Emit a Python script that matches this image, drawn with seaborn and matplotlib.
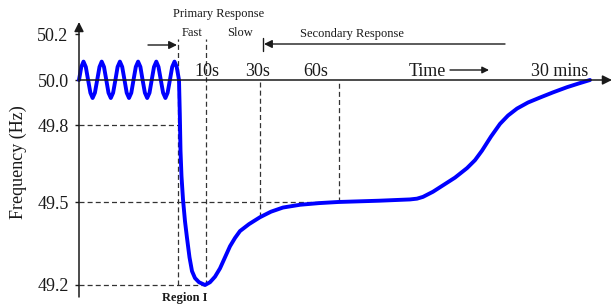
import numpy as np
import pandas as pd
import matplotlib
matplotlib.use('Agg')
from matplotlib import pyplot as plt
import matplotlib.transforms as mtransforms
import seaborn as sns

# time axis is schematic (arbitrary units), frequency in Hz
osc_t = [0, 2.3, 4.5, 6.8, 9.1, 11.4, 13.6, 15.9, 18.2, 20.5, 22.7, 25.0, 27.3, 29.5,
         31.8, 34.1, 36.4, 38.6, 40.9, 43.2, 45.5, 47.7, 50.0, 52.3, 54.5, 56.8, 59.1,
         61.4, 63.6, 65.9, 68.2, 70.5, 72.7, 75.0, 77.3, 79.5, 81.8, 84.1, 86.4, 88.6,
         90.9, 93.2, 95.5, 97.7, 100.0]
osc_f = [50.0, 50.057, 50.08, 50.057, 50.0, 49.943, 49.92, 49.943] * 5 + \
        [50.0, 50.057, 50.08, 50.057, 50.0]

resp_t = [100.8, 101.5, 102.5, 104, 106, 108, 110.5, 113, 116, 120, 126, 131, 136,
          141, 146, 151, 156, 161, 170, 181, 192, 204, 221, 240, 259, 300, 331, 338,
          344, 354, 364, 376, 388, 396, 403, 412, 421, 429, 438, 449, 461, 474, 488,
          500, 511]
resp_f = [49.85, 49.70, 49.60, 49.51, 49.43, 49.37, 49.30, 49.25, 49.225, 49.21,
          49.2, 49.21, 49.23, 49.26, 49.30, 49.34, 49.37, 49.395, 49.42, 49.445,
          49.465, 49.48, 49.49, 49.496, 49.5, 49.505, 49.51, 49.513, 49.52, 49.54,
          49.565, 49.595, 49.632, 49.663, 49.70, 49.755, 49.805, 49.842, 49.873,
          49.90, 49.922, 49.945, 49.968, 49.985, 50.0]

freq_ticks = [49.2, 49.5, 49.8, 50.0, 50.2]
freq_labels = ['49.2', '49.5', '49.8', '50.0', '50.2']
time_marks = [99, 127, 181, 260]          # fast start, 10s, 30s, 60s
time_labels = ['10s', '30s', '60s']

df = pd.DataFrame({'t': osc_t + resp_t, 'f': osc_f + resp_f})

sns.set_theme(style='white')
plt.rcParams['font.family'] = ['Liberation Serif', 'DejaVu Serif']
plt.rcParams['text.color'] = 'k'

fig = plt.figure(figsize=(6.12, 3.06), dpi=100)
ax = fig.add_axes([0, 0, 1, 1])

# schematic (non-linear) frequency scale
knots_f = [49.0, 49.2, 49.5, 49.8, 50.0, 50.2, 50.4]
knots_p = [-34, 21, 104, 181, 226, 272, 318]
fwd = lambda y: np.interp(y, knots_f, knots_p)
inv = lambda p: np.interp(p, knots_p, knots_f)
ax.set_yscale('function', functions=(fwd, inv))
ax.set_xlim(-79, 533)
ax.set_ylim(inv(0), inv(306))

# pixel transform for the annotation texts
pix = mtransforms.Affine2D().scale(1 / 612, -1 / 306).translate(0, 1) + fig.transFigure

dash = dict(color='#333333', lw=0.9, ls=(0, (4, 2.5)))
# horizontal guides
ax.plot([0, time_marks[0] + 3], [49.8, 49.8], **dash)
ax.plot([0, time_marks[3]], [49.5, 49.5], **dash)
ax.plot([0, time_marks[1]], [49.2, 49.2], **dash)
# vertical guides
ax.plot([time_marks[0]] * 2, [49.2, 50.18], **dash)
ax.plot([time_marks[1]] * 2, [49.2, 50.18], **dash)
ax.plot([time_marks[2]] * 2, [49.445, 50.0], **dash)
ax.plot([time_marks[3]] * 2, [49.5, 50.0], **dash)

sns.lineplot(data=df, x='t', y='f', color='#0000ff', lw=2.8, sort=False,
             estimator=None, ax=ax, zorder=3)

# axes with arrow heads
ax.annotate('', xy=(0, inv(306 - 22)), xytext=(0, inv(306 - 297)),
            arrowprops=dict(arrowstyle='-|>', lw=1.1, color='k', mutation_scale=14,
                            shrinkA=0, shrinkB=0))
ax.annotate('', xy=(533, 50.0), xytext=(0, 50.0),
            arrowprops=dict(arrowstyle='-|>', lw=1.1, color='k', mutation_scale=14,
                            shrinkA=0, shrinkB=0))
for s in ax.spines.values():
    s.set_visible(False)
ax.spines['left'].set_position(('data', 0))

ax.set_xticks([])
ax.set_yticks(freq_ticks)
ax.set_yticklabels(freq_labels, fontsize=13)
ax.tick_params(axis='y', left=True, direction='out', length=3, width=1, color='k',
               pad=4.5, labelcolor='k')
ax.set_ylabel('Frequency (Hz)', fontsize=13, color='k')
ax.yaxis.set_label_coords(27 / 612, 0.47)
ax.set_xlabel('')

# time labels above axis
for x, lab in zip([207, 258, 316], time_labels):
    ax.text(x, 71, lab, transform=pix, fontsize=13, ha='center', va='center')
ax.text(560, 71, '30 mins', transform=pix, fontsize=13, ha='center', va='center')
ax.text(427, 71, 'Time', transform=pix, fontsize=13, ha='center', va='center')
ax.annotate('', xy=(489, 70), xytext=(450, 70), xycoords=pix, textcoords=pix,
            arrowprops=dict(arrowstyle='-|>', lw=1, color='k', mutation_scale=10,
                            shrinkA=0, shrinkB=0))

# header
ax.text(219, 14, 'Primary Response', transform=pix, fontsize=9, ha='center', va='center')
ax.text(192, 33, 'Fast', transform=pix, fontsize=9, ha='center', va='center')
ax.text(240, 33, 'Slow', transform=pix, fontsize=9, ha='center', va='center')
ax.text(352, 34, 'Secondary Response', transform=pix, fontsize=9, ha='center', va='center')
ax.annotate('', xy=(177, 45), xytext=(148, 45), xycoords=pix, textcoords=pix,
            arrowprops=dict(arrowstyle='-|>', lw=1, color='k', mutation_scale=12,
                            shrinkA=0, shrinkB=0))
ax.annotate('', xy=(264, 44), xytext=(505, 44), xycoords=pix, textcoords=pix,
            arrowprops=dict(arrowstyle='-|>', lw=1, color='k', mutation_scale=12,
                            shrinkA=0, shrinkB=0))
ax.plot([263, 263], [38, 51], transform=pix, color='k', lw=1)

ax.text(185, 298, 'Region I', transform=pix, fontsize=9, fontweight='bold',
        ha='center', va='center')

plt.savefig('out.png', dpi=100)
plt.close()
